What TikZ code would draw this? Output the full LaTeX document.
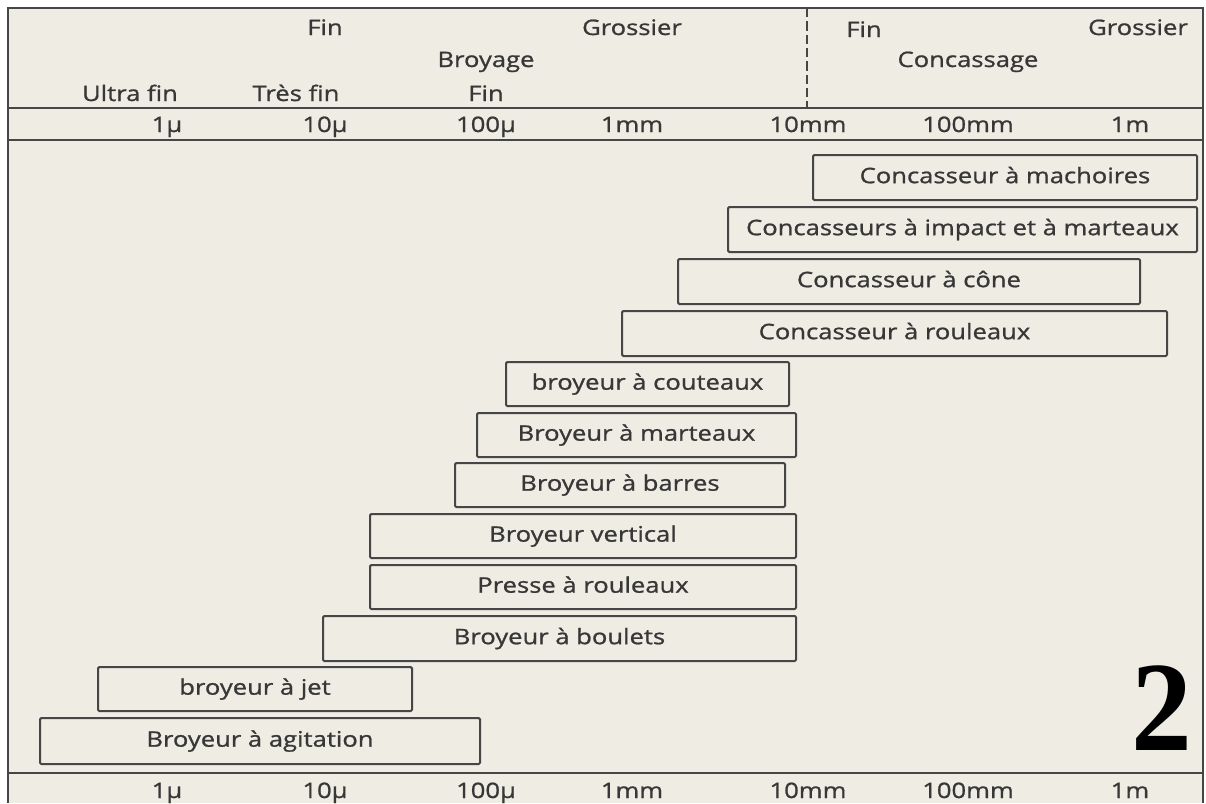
\documentclass[tikz,border=0pt]{standalone}
\usepackage{fontspec}
\setmainfont[FakeStretch=1.2,FakeBold=1]{Open Sans}
\newfontfamily\bignum[FakeStretch=0.95]{Liberation Serif}
\definecolor{fond}{RGB}{238,236,227}
\definecolor{trait}{RGB}{70,70,70}
\definecolor{texte}{RGB}{55,55,55}
\tikzset{
  lbl/.style={text=texte, inner sep=0pt, anchor=base, font=\fontsize{16}{19}\selectfont},
  bar/.style={draw=trait, line width=1.5pt, fill=fond, rounded corners=1pt,
    inner sep=0pt, text height=11.5pt, text depth=3pt, text=texte,
    font=\fontsize{16}{19}\selectfont},
  ligne/.style={draw=trait, line width=1.5pt}
}

\begin{document}
\begin{tikzpicture}[x=0.75pt,y=-0.75pt]
\useasboundingbox (0,0) rectangle (1206,803);
% background and frame
\fill[white] (0,0) rectangle (1206,803);
\fill[fond] (8,8) rectangle (1203,803);
\draw[ligne] (8,803) -- (8,8) -- (1203,8) -- (1203,803);
% horizontal lines
\draw[ligne] (8,108) -- (1203,108);
\draw[ligne] (8,140) -- (1203,140);
\draw[ligne] (8,773) -- (1203,773);
% broyage / concassage limit
\draw[ligne, dash pattern=on 7pt off 3pt] (807,8) -- (807,108);
% header labels (at baselines)
\node[lbl] (broyfin)   at (325,35)  {Fin};
\node[lbl] (broygros)  at (632,35)  {Grossier};
\node[lbl] (concfin)   at (864,37)  {Fin};
\node[lbl] (concgros)  at (1138,35) {Grossier};
\node[lbl] (broyage)   at (486,67)  {Broyage};
\node[lbl] (concassage) at (968,67) {Concassage};
\node[lbl] (ultrafin)  at (130,101) {Ultra fin};
\node[lbl] (tresfin)   at (296,101) {Très fin};
\node[lbl] (fin)       at (486,101) {Fin};
% size scales, top and bottom
\foreach \xx/\val/\nm in {167/1µ/a,325/10µ/b,486/100µ/c,632/1mm/d,808/10mm/e,968/100mm/f,1130/1m/g}{
    \node[lbl] (haut-\nm) at (\xx,132) {\val};
    \node[lbl] (bas-\nm)  at (\xx,798) {\val};
}
% machines
\foreach \xa/\ya/\xb/\yb/\nm/\txt in {
    813/155/1197/200/machoires/Concasseur à machoires,
    728/207/1197/252/impact/Concasseurs à impact et à marteaux,
    678/259/1140/304/cone/Concasseur à cône,
    622/311/1167/356/rouleaux/Concasseur à rouleaux,
    506/362/789/406/couteaux/broyeur à couteaux,
    477/413/796/457/marteaux/Broyeur à marteaux,
    455/463/785/507/barres/Broyeur à barres,
    370/514/796/558/vertical/Broyeur vertical,
    370/565/796/609/presse/Presse à rouleaux,
    323/616/796/661/boulets/Broyeur à boulets,
    98/667/412/711/jet/broyeur à jet,
    40/718/480/764/agitation/Broyeur à agitation}{
    \node[bar, minimum width={(\xb-\xa)*0.75pt}, minimum height={(\yb-\ya)*0.75pt}]
        (\nm) at ({(\xa+\xb)/2},{(\ya+\yb)/2}) {\txt};
}
% figure number
\node[inner sep=0pt] (numero) at (1162,708) {\bignum\bfseries\fontsize{96}{96}\selectfont 2};
\end{tikzpicture}
\end{document}
